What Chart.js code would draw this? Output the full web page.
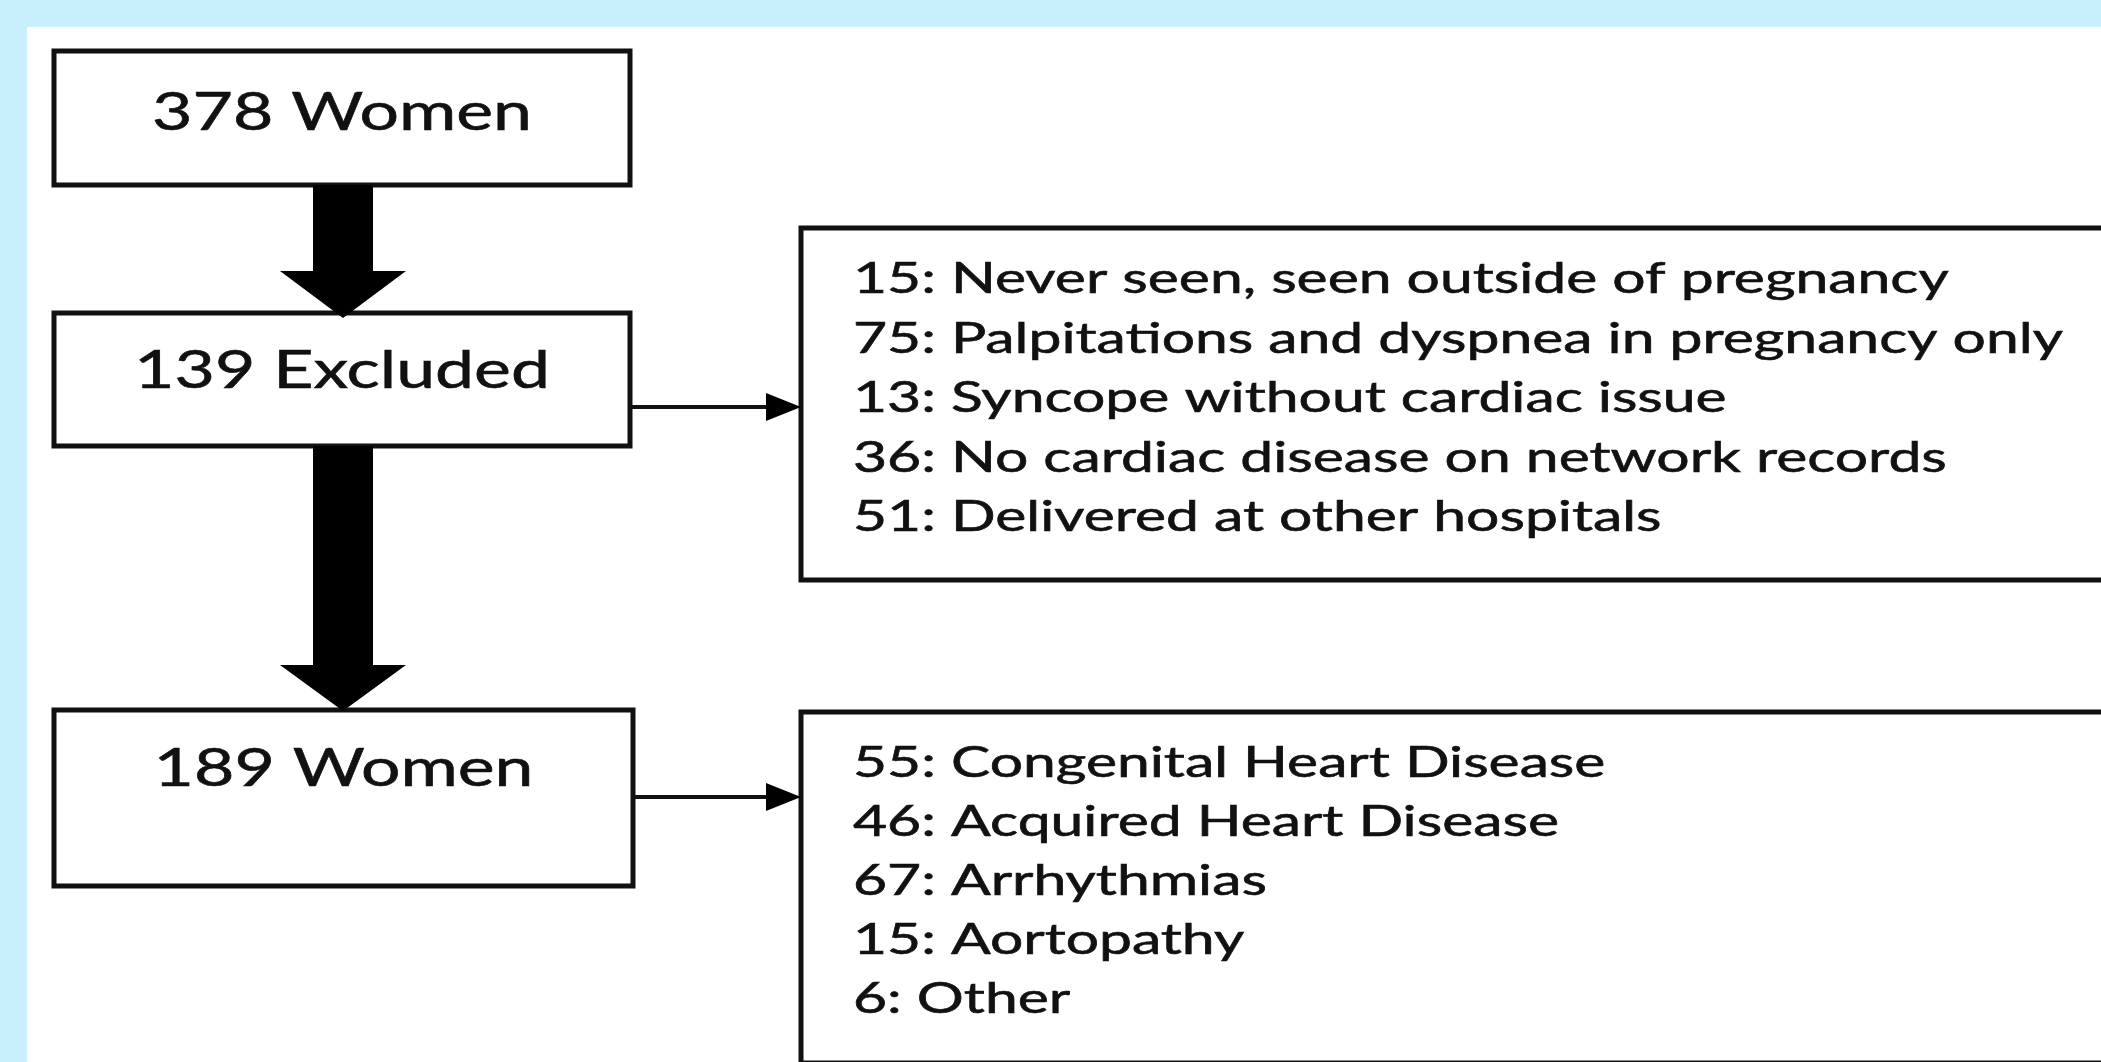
<!DOCTYPE html>
<html lang="en">
  <head>
    <meta charset="UTF-8" />
    <title>Flowchart - women with cardiac disease in pregnancy</title>
    <style>
      html,
      body {
        margin: 0;
        padding: 0;
        background: #c9effd;
      }
      canvas {
        display: block;
      }
    </style>
  </head>
  <body>
    <canvas id="myChart" width="2101" height="1062"></canvas>

    <script src="https://cdn.jsdelivr.net/npm/chart.js"></script>

    <script>
      // data
      const stageCounts = [378, 139, 189];
      const stageLabels = ["Women", "Excluded", "Women"];

      const excludedCounts = [15, 75, 13, 36, 51];
      const excludedReasons = [
        "Never seen, seen outside of pregnancy",
        "Palpitations and dyspnea in pregnancy only",
        "Syncope without cardiac issue",
        "No cardiac disease on network records",
        "Delivered at other hospitals",
      ];

      const includedCounts = [55, 46, 67, 15, 6];
      const includedGroups = [
        "Congenital Heart Disease",
        "Acquired Heart Disease",
        "Arrhythmias",
        "Aortopathy",
        "Other",
      ];

      // layout, in axis units (x 0..2101, y 0..1062 top-down)
      const stageBoxes = [
        { x0: 54, x1: 630, y0: 51, y1: 185, baseline: 130 },
        { x0: 54, x1: 630, y0: 313, y1: 446, baseline: 388 },
        { x0: 54, x1: 633, y0: 710, y1: 886, baseline: 786 },
      ];
      const listBoxes = [
        { x0: 801, x1: 2140, y0: 228, y1: 580, textX: 853, firstBaseline: 293, step: 59.5 },
        { x0: 801, x1: 2140, y0: 712, y1: 1063, textX: 853, firstBaseline: 777, step: 59 },
      ];
      const bigArrows = [
        { x: 343, y0: 185, yHead: 271, yTip: 318 },
        { x: 343, y0: 446, yHead: 665, yTip: 711 },
      ];
      const sideArrows = [
        { y: 407, x0: 630, x1: 801 },
        { y: 797, x0: 633, x1: 801 },
      ];

      const FONT = "Lato, 'Open Sans', sans-serif";
      const STAGE_STRETCH = 1.34;
      const LIST_STRETCH = 1.4;
      const INK = "#111";

      const flowPlugin = {
        id: "flow",
        beforeDraw(chart) {
          const c = chart.ctx;
          const { x, y } = chart.scales;
          c.save();
          c.fillStyle = "#c9effd";
          c.fillRect(0, 0, chart.width, chart.height);
          c.fillStyle = "#ffffff";
          c.fillRect(x.getPixelForValue(27), y.getPixelForValue(27), chart.width, chart.height);
          c.restore();
        },
        afterDraw(chart) {
          const c = chart.ctx;
          const px = (v) => chart.scales.x.getPixelForValue(v);
          const py = (v) => chart.scales.y.getPixelForValue(v);

          const drawText = (str, tx, ty, size, stretch, align) => {
            c.save();
            c.font = size + "px " + FONT;
            c.fillStyle = INK;
            c.strokeStyle = INK;
            c.lineWidth = 0.6;
            c.textBaseline = "alphabetic";
            c.translate(tx, ty);
            c.scale(stretch, 1);
            const w = c.measureText(str).width;
            const x0 = align === "center" ? -w / 2 : 0;
            c.fillText(str, x0, 0);
            c.strokeText(str, x0, 0);
            c.restore();
          };

          c.save();
          c.strokeStyle = INK;
          c.fillStyle = "#000";
          c.lineWidth = 5;
          c.lineJoin = "miter";

          // boxes
          stageBoxes.concat(listBoxes).forEach((b) => {
            c.strokeRect(px(b.x0), py(b.y0), px(b.x1) - px(b.x0), py(b.y1) - py(b.y0));
          });

          // thick down arrows
          bigArrows.forEach((a) => {
            const cx = px(a.x);
            c.beginPath();
            c.moveTo(cx - 30, py(a.y0));
            c.lineTo(cx + 30, py(a.y0));
            c.lineTo(cx + 30, py(a.yHead));
            c.lineTo(cx + 63, py(a.yHead));
            c.lineTo(cx, py(a.yTip));
            c.lineTo(cx - 63, py(a.yHead));
            c.lineTo(cx - 30, py(a.yHead));
            c.closePath();
            c.fill();
          });

          // thin side arrows
          c.lineWidth = 4;
          sideArrows.forEach((a) => {
            const yy = py(a.y);
            const tip = px(a.x1);
            c.beginPath();
            c.moveTo(px(a.x0), yy);
            c.lineTo(tip - 30, yy);
            c.stroke();
            c.beginPath();
            c.moveTo(tip, yy);
            c.lineTo(tip - 35, yy - 14);
            c.lineTo(tip - 35, yy + 14);
            c.closePath();
            c.fill();
          });
          c.restore();

          // stage labels
          stageBoxes.forEach((b, i) => {
            const cx = (px(b.x0) + px(b.x1)) / 2;
            drawText(stageCounts[i] + " " + stageLabels[i], cx, py(b.baseline), 52, STAGE_STRETCH, "center");
          });

          // list texts
          const lists = [
            [excludedCounts, excludedReasons],
            [includedCounts, includedGroups],
          ];
          listBoxes.forEach((b, k) => {
            const [counts, names] = lists[k];
            counts.forEach((n, i) => {
              drawText(n + ": " + names[i], px(b.textX), py(b.firstBaseline + i * b.step), 42, LIST_STRETCH, "left");
            });
          });
        },
      };

      const ctx = document.getElementById("myChart");

      new Chart(ctx, {
        type: "scatter",
        data: { datasets: [{ data: [] }] },
        options: {
          responsive: false,
          animation: false,
          layout: { padding: 0 },
          plugins: {
            legend: { display: false },
            tooltip: { enabled: false },
          },
          scales: {
            x: { type: "linear", min: 0, max: 2101, display: false },
            y: { type: "linear", min: 0, max: 1062, reverse: true, display: false },
          },
        },
        plugins: [flowPlugin],
      });
    </script>
  </body>
</html>
